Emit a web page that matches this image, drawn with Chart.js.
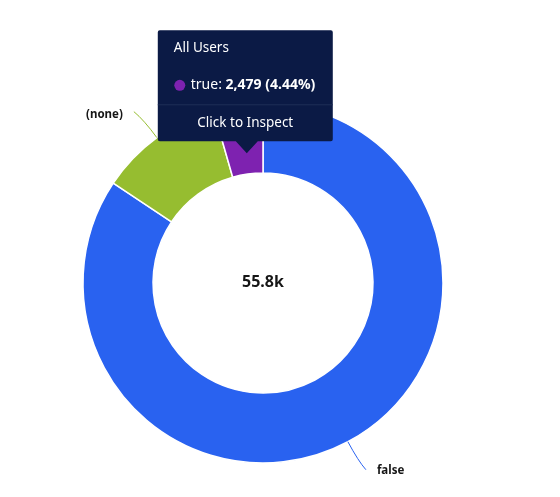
<!DOCTYPE html>
<html>
<head>
<meta charset="utf-8">
<script src="https://cdn.jsdelivr.net/npm/chart.js@4.4.0/dist/chart.umd.min.js"></script>
<style>
  html, body { margin: 0; padding: 0; background: #fff; }
  #wrap { width: 560px; height: 497px; position: relative; }
</style>
</head>
<body>
<div id="wrap"><canvas id="chart"></canvas></div>
<script>
const labels = ['false', '(none)', 'true'];
const values = [47101, 6250, 2479];
const colors = ['#2962f0', '#96bd30', '#7e22b0'];
const centerLabel = '55.8k';
const tooltipTitle = 'All Users';
const tooltipFooter = 'Click to Inspect';
const activeIndex = 2;

const FONT = '"Noto Sans", "Open Sans", sans-serif';

function fmt(n) {
    return n.toLocaleString('en-US');
}

// leader lines + outside labels, centre total, and the fixed tooltip
const extras = {
    id: 'extras',
    afterDraw(chart) {
        const ctx = chart.ctx;
        const meta = chart.getDatasetMeta(0);
        const total = values.reduce((a, b) => a + b, 0);

        // outside labels for the two bigger slices
        const leader = {
            0: { dx: 18, dy: 28, side: 'right' },
            1: { dx: -23, dy: -26, side: 'left' }
        };
        Object.keys(leader).forEach(k => {
            const i = +k;
            const arc = meta.data[i];
            const p = arc.getProps(['x', 'y', 'startAngle', 'endAngle', 'outerRadius'], true);
            const mid = (p.startAngle + p.endAngle) / 2;
            const x0 = p.x + Math.cos(mid) * p.outerRadius;
            const y0 = p.y + Math.sin(mid) * p.outerRadius;
            const l = leader[i];
            const x1 = x0 + l.dx, y1 = y0 + l.dy;
            const cx = x0 + Math.cos(mid) * 22, cy = y0 + Math.sin(mid) * 22;
            ctx.save();
            ctx.strokeStyle = colors[i];
            ctx.lineWidth = 1;
            ctx.beginPath();
            ctx.moveTo(x0, y0);
            ctx.quadraticCurveTo(cx, cy, x1, y1);
            ctx.stroke();
            ctx.fillStyle = '#161616';
            ctx.font = 'bold 11.5px ' + FONT;
            ctx.textBaseline = 'middle';
            if (l.side === 'right') {
                ctx.textAlign = 'left';
                ctx.fillText(labels[i], x1 + 11, y1 + 1);
            } else {
                ctx.textAlign = 'right';
                ctx.fillText(labels[i], x1 - 11, y1 + 3);
            }
            ctx.restore();
        });

        // centre total
        const a0 = meta.data[0];
        ctx.save();
        ctx.fillStyle = '#161616';
        ctx.font = 'bold 16px ' + FONT;
        ctx.textAlign = 'center';
        ctx.textBaseline = 'middle';
        ctx.fillText(centerLabel, a0.x, a0.y - 1);
        ctx.restore();

        // tooltip for the active slice
        const arc = meta.data[activeIndex];
        const p = arc.getProps(['x', 'y', 'startAngle', 'endAngle', 'innerRadius', 'outerRadius'], true);
        const mid = (p.startAngle + p.endAngle) / 2;
        const tipX = p.x + Math.cos(mid) * 131 + 2;
        const tipY = p.y + Math.sin(mid) * 131;
        const w = 175, h = 111, caretH = 12, caretW = 11;
        const bx = tipX - 89, by = tipY - caretH - h;
        ctx.save();
        ctx.fillStyle = '#0b1a45';
        ctx.beginPath();
        ctx.moveTo(bx + 2, by);
        ctx.lineTo(bx + w - 2, by);
        ctx.quadraticCurveTo(bx + w, by, bx + w, by + 2);
        ctx.lineTo(bx + w, by + h - 2);
        ctx.quadraticCurveTo(bx + w, by + h, bx + w - 2, by + h);
        ctx.lineTo(tipX + caretW, by + h);
        ctx.lineTo(tipX, tipY);
        ctx.lineTo(tipX - caretW, by + h);
        ctx.lineTo(bx + 2, by + h);
        ctx.quadraticCurveTo(bx, by + h, bx, by + h - 2);
        ctx.lineTo(bx, by + 2);
        ctx.quadraticCurveTo(bx, by, bx + 2, by);
        ctx.closePath();
        ctx.fill();

        ctx.strokeStyle = '#1f2d57';
        ctx.lineWidth = 1;
        ctx.beginPath();
        ctx.moveTo(bx, by + 74.5);
        ctx.lineTo(bx + w, by + 74.5);
        ctx.stroke();

        ctx.fillStyle = '#ffffff';
        ctx.textBaseline = 'middle';
        ctx.textAlign = 'left';
        ctx.font = '13.5px ' + FONT;
        ctx.fillText(tooltipTitle, bx + 16, by + 18);

        ctx.fillStyle = colors[activeIndex];
        ctx.beginPath();
        ctx.arc(bx + 22, by + 55, 5.5, 0, Math.PI * 2);
        ctx.fill();

        const pct = (values[activeIndex] / total * 100).toFixed(2);
        ctx.fillStyle = '#ffffff';
        ctx.font = '14px ' + FONT;
        const lead = labels[activeIndex] + ': ';
        ctx.fillText(lead, bx + 33, by + 55);
        const lw = ctx.measureText(lead).width;
        ctx.font = 'bold 14px ' + FONT;
        ctx.fillText(fmt(values[activeIndex]) + ' (' + pct + '%)', bx + 33 + lw, by + 55);

        ctx.font = '13.5px ' + FONT;
        ctx.textAlign = 'center';
        ctx.fillText(tooltipFooter, bx + w / 2, by + 93);
        ctx.restore();
    }
};

new Chart(document.getElementById('chart').getContext('2d'), {
    type: 'doughnut',
    data: {
        labels: labels,
        datasets: [{
            data: values,
            backgroundColor: colors,
            borderColor: '#ffffff',
            borderWidth: 1.5,
            hoverOffset: 0
        }]
    },
    options: {
        responsive: true,
        maintainAspectRatio: false,
        animation: false,
        radius: 180,
        cutout: '61.1%',
        layout: {
            padding: { left: 40, right: 74, top: 79, bottom: 10 }
        },
        plugins: {
            legend: { display: false },
            tooltip: { enabled: false }
        },
        events: []
    },
    plugins: [extras]
});
</script>
</body>
</html>
